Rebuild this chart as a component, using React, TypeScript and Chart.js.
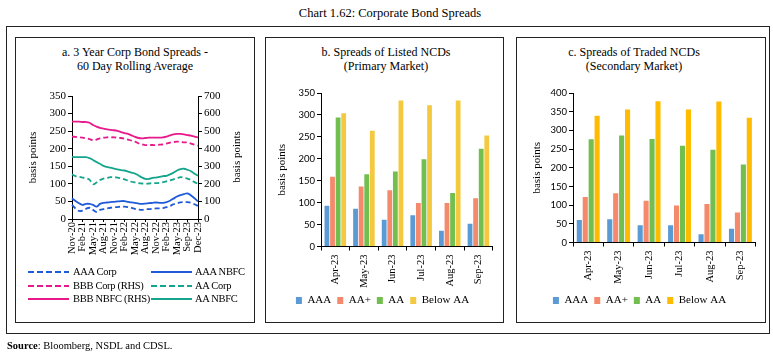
import React, { useEffect, useRef } from 'react';
import { Chart, registerables } from 'chart.js';
Chart.register(...registerables);

// ---------- Panel a: 3 Year Corp Bond Spreads (60 day rolling average) ----------
const lineTickLabels = ['Nov-20', 'Feb-21', 'May-21', 'Aug-21', 'Nov-21', 'Feb-22', 'May-22', 'Aug-22', 'Nov-22', 'Feb-23', 'May-23', 'Sep-23', 'Dec-23'];
const POINTS_PER_TICK = 3;
const aaaCorp = [40, 30, 23, 24, 29, 32, 26, 20, 26, 28, 30, 32, 33, 34, 35, 35, 34, 32, 29, 27, 26, 28, 28, 29, 30, 30, 31, 34, 37, 42, 45, 47, 48, 48, 46, 42, 37];
const aaaNbfc = [59, 51, 45, 40, 43, 43, 40, 35, 43, 46, 47, 48, 49, 50, 51, 51, 49, 47, 46, 44, 43, 44, 45, 46, 47, 46, 46, 48, 52, 58, 64, 68, 71, 73, 67, 59, 50];
const bbbCorpRhs = [469, 467, 465, 463, 459, 455, 448, 452, 459, 463, 465, 465, 465, 463, 461, 457, 452, 446, 440, 431, 425, 421, 421, 421, 421, 423, 425, 429, 435, 438, 440, 440, 436, 435, 429, 423, 417];
const aaCorp = [127, 122, 120, 118, 116, 112, 99, 104, 111, 115, 117, 119, 119, 118, 116, 113, 109, 106, 104, 102, 101, 100, 101, 102, 102, 103, 105, 107, 110, 113, 116, 119, 117, 115, 111, 105, 100];
const bbbNbfcRhs = [554, 554, 554, 552, 552, 548, 535, 526, 518, 514, 510, 507, 505, 501, 495, 489, 484, 476, 467, 461, 459, 461, 463, 463, 463, 463, 465, 469, 476, 482, 484, 484, 482, 478, 474, 469, 465];
const aaNbfc = [177, 176, 176, 176, 176, 173, 168, 162, 157, 151, 148, 146, 143, 141, 139, 138, 135, 132, 129, 124, 118, 114, 114, 117, 118, 120, 122, 123, 127, 132, 138, 142, 143, 140, 136, 129, 123];

// ---------- Panels b and c: bars ----------
const barMonths = ['Apr-23', 'May-23', 'Jun-23', 'Jul-23', 'Aug-23', 'Sep-23'];
const primaryAAA = [93, 86, 61, 71, 36, 52];
const primaryAAplus = [159, 137, 128, 99, 99, 110];
const primaryAA = [294, 165, 171, 199, 122, 223];
const primaryBelowAA = [304, 264, 333, 322, 333, 253];
const secondaryAAA = [60, 62, 46, 46, 22, 37];
const secondaryAAplus = [122, 132, 112, 99, 103, 80];
const secondaryAA = [276, 286, 277, 259, 248, 209];
const secondaryBelowAA = [339, 356, 378, 356, 377, 334];

const SERIF = '"Liberation Serif", "DejaVu Serif", serif';
const SANS = 'Lato, "Open Sans", sans-serif';
const BLUE = '#1f5bd8';
const PINK = '#e8198b';
const TEAL = '#14a58c';

const lineSeries = [
  { label: 'AAA Corp', data: aaaCorp, color: BLUE, dashed: true, axis: 'y' },
  { label: 'AAA NBFC', data: aaaNbfc, color: BLUE, dashed: false, axis: 'y' },
  { label: 'BBB Corp (RHS)', data: bbbCorpRhs, color: PINK, dashed: true, axis: 'y2' },
  { label: 'AA Corp', data: aaCorp, color: TEAL, dashed: true, axis: 'y' },
  { label: 'BBB NBFC (RHS)', data: bbbNbfcRhs, color: PINK, dashed: false, axis: 'y2' },
  { label: 'AA NBFC', data: aaNbfc, color: TEAL, dashed: false, axis: 'y' },
];

const lineLabels = aaaCorp.map((_, i) => (i % POINTS_PER_TICK === 0 ? lineTickLabels[i / POINTS_PER_TICK] : ''));

function makeLineConfig(): any {
  return {
    type: 'line',
    data: {
      labels: lineLabels,
      datasets: lineSeries.map((s) => ({
        label: s.label,
        data: s.data,
        borderColor: s.color,
        backgroundColor: s.color,
        borderWidth: 1.8,
        borderDash: s.dashed ? [5, 3] : [],
        pointRadius: 0,
        tension: 0.35,
        fill: false,
        yAxisID: s.axis,
      })),
    },
    options: {
      animation: false,
      responsive: false,
      maintainAspectRatio: false,
      layout: { padding: { top: 10, left: 0, right: 0, bottom: 0 } },
      plugins: { legend: { display: false }, tooltip: { enabled: false } },
      scales: {
        x: {
          type: 'category',
          grid: {
            display: true,
            drawOnChartArea: false,
            tickLength: 3,
            tickColor: (c: any) => (lineLabels[c.index] ? '#000' : 'rgba(0,0,0,0)'),
          },
          border: { color: '#000', width: 1 },
          ticks: {
            autoSkip: false,
            maxRotation: 90,
            minRotation: 90,
            padding: 0,
            color: '#000',
            font: { family: SERIF, size: 10.5 },
            callback: (_v: any, i: number) => lineLabels[i],
          },
          afterFit: (s: any) => { s.height = 47; },
        },
        y: {
          position: 'left',
          min: 0,
          max: 350,
          ticks: { stepSize: 50, color: '#000', padding: 2, font: { family: SERIF, size: 11 } },
          grid: { drawOnChartArea: false, tickLength: 4, color: '#000' },
          border: { color: '#000' },
          title: { display: true, text: 'basis points', color: '#000', font: { family: SERIF, size: 11 }, padding: { top: 7, bottom: 0 } },
          afterFit: (s: any) => { s.width = 52; },
        },
        y2: {
          position: 'right',
          min: 0,
          max: 700,
          ticks: { stepSize: 100, color: '#000', padding: 2, font: { family: SERIF, size: 11 } },
          grid: { drawOnChartArea: false, tickLength: 4, color: '#000' },
          border: { color: '#000' },
          title: { display: false },
          afterFit: (s: any) => { s.width = 52; },
        },
      },
    },
  };
}

const barNames = ['AAA', 'AA+', 'AA', 'Below AA'];

function makeBarConfig(series: number[][], colors: string[], max: number, xHeight: number, titlePad: number): any {
  return {
    type: 'bar',
    data: {
      labels: barMonths,
      datasets: series.map((d, k) => ({
        label: barNames[k],
        data: d,
        backgroundColor: colors[k],
        borderWidth: 0,
        barPercentage: 0.86,
        categoryPercentage: 0.78,
      })),
    },
    options: {
      animation: false,
      responsive: false,
      maintainAspectRatio: false,
      layout: { padding: { top: 10, left: 0, right: 0, bottom: 0 } },
      plugins: {
        tooltip: { enabled: false },
        legend: {
          display: true,
          position: 'bottom',
          labels: { boxWidth: 6, boxHeight: 7, padding: 6, color: '#000', font: { family: SERIF, size: 11 } },
        },
      },
      scales: {
        x: {
          grid: { display: true, drawOnChartArea: false, tickLength: 4, color: '#000' },
          border: { color: '#000' },
          ticks: { maxRotation: 90, minRotation: 90, padding: 4, color: '#000', font: { family: SERIF, size: 10.5 } },
          afterFit: (s: any) => { s.height = xHeight; },
        },
        y: {
          min: 0,
          max,
          ticks: { stepSize: 50, color: '#000', padding: 2, font: { family: SANS, size: 9.5 } },
          grid: { drawOnChartArea: false, tickLength: 4, color: '#000' },
          border: { color: '#000' },
          title: { display: true, text: 'basis points', color: '#000', font: { family: SERIF, size: 11 }, padding: { top: titlePad, bottom: 0 } },
          afterFit: (s: any) => { s.width = 51; },
        },
      },
    },
  };
}

const barColorsPrimary = ['#5b9bd5', '#f4896b', '#72bf4f', '#f5c93f'];
const barColorsSecondary = ['#5b9bd5', '#f4896b', '#72bf4f', '#ffbb00'];

function ChartCanvas({ left, top, width, height, make }: { left: number; top: number; width: number; height: number; make: () => any }) {
  const ref = useRef<HTMLCanvasElement>(null);
  useEffect(() => {
    const chart = new Chart(ref.current as HTMLCanvasElement, make());
    return () => chart.destroy();
  }, []);
  return <canvas ref={ref} width={width} height={height} style={{ position: 'absolute', left, top, width, height }} />;
}

function Box({ left, top, right, bottom, border }: { left: number; top: number; right: number; bottom: number; border: string }) {
  return <div style={{ position: 'absolute', left, top, width: right - left, height: bottom - top, border, boxSizing: 'border-box' }} />;
}

function Text({ cx, y, children, size = 12 }: any) {
  return (
    <div style={{ position: 'absolute', top: y, left: cx, transform: 'translateX(-50%)', fontFamily: SERIF, fontSize: size, color: '#000', whiteSpace: 'nowrap', lineHeight: '14px' }}>
      {children}
    </div>
  );
}

function LineLegend() {
  const cols = [
    { lineX: 28, textX: 73 },
    { lineX: 151, textX: 195 },
  ];
  const rowsY = [272, 286, 299];
  return (
    <>
      {lineSeries.map((s, i) => {
        const col = cols[i % 2];
        const y = rowsY[Math.floor(i / 2)];
        const bg = s.dashed
          ? `repeating-linear-gradient(to right, ${s.color} 0px, ${s.color} 6px, transparent 6px, transparent 9px)`
          : s.color;
        return (
          <React.Fragment key={s.label}>
            <div style={{ position: 'absolute', left: col.lineX, top: y - 1, width: 41, height: 2, background: bg }} />
            <div style={{ position: 'absolute', left: col.textX, top: y - 7, fontFamily: SERIF, fontSize: 10.5, letterSpacing: -0.3, lineHeight: '14px', color: '#000', whiteSpace: 'nowrap' }}>{s.label}</div>
          </React.Fragment>
        );
      })}
    </>
  );
}

export default function App() {
  return (
    <div style={{ position: 'absolute', left: 0, top: 0, width: 773, height: 356, background: '#fff', overflow: 'hidden' }}>
      <Text cx={390} y={6} size={12.5}>Chart 1.62: Corporate Bond Spreads</Text>
      <Box left={6} top={26} right={770} bottom={334} border="1.5px solid #222" />
      <Box left={15} top={37} right={255} bottom={323} border="1px solid #222" />
      <Box left={265} top={37} right={504} bottom={323} border="1px solid #222" />
      <Box left={516} top={37} right={766} bottom={323} border="1px solid #222" />

      <Text cx={135} y={45}>a. 3 Year Corp Bond Spreads -</Text>
      <Text cx={135} y={59}>60 Day Rolling Average</Text>
      <Text cx={386} y={45}>b. Spreads of Listed NCDs</Text>
      <Text cx={386} y={59}>(Primary Market)</Text>
      <Text cx={634} y={45}>c. Spreads of Traded NCDs</Text>
      <Text cx={634} y={59}>(Secondary Market)</Text>

      <ChartCanvas left={20} top={86} width={230} height={180} make={makeLineConfig} />
      <div
        style={{
          position: 'absolute', left: 236, top: 157, transform: 'translate(-50%, -50%) rotate(-90deg)',
          fontFamily: SERIF, fontSize: 11, color: '#000', whiteSpace: 'nowrap', lineHeight: '13px',
        }}
      >
        basis points
      </div>
      <LineLegend />

      <ChartCanvas
        left={270}
        top={83}
        width={225}
        height={233}
        make={() => makeBarConfig([primaryAAA, primaryAAplus, primaryAA, primaryBelowAA], barColorsPrimary, 350, 42.5, 6)}
      />
      <ChartCanvas
        left={522}
        top={83}
        width={235}
        height={233}
        make={() => makeBarConfig([secondaryAAA, secondaryAAplus, secondaryAA, secondaryBelowAA], barColorsSecondary, 400, 46.5, 9)}
      />

      <div style={{ position: 'absolute', left: 7, top: 340, fontFamily: SERIF, fontSize: 10.5, color: '#000', whiteSpace: 'nowrap' }}>
        <b>Source</b>: Bloomberg, NSDL and CDSL.
      </div>
    </div>
  );
}
